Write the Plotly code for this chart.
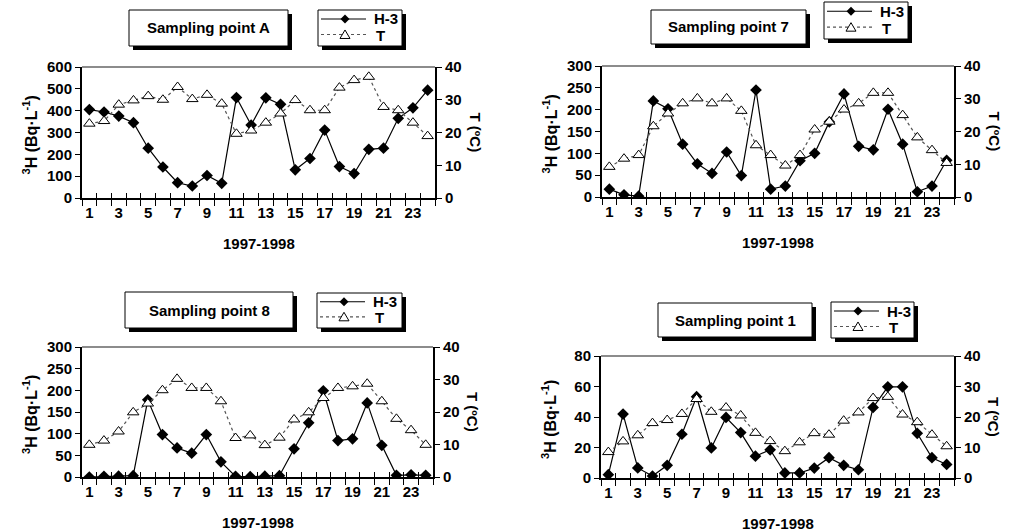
import plotly.graph_objects as go

# ---------------- data ----------------
months = list(range(1, 25))
tick_labels = [str(m) for m in range(1, 24, 2)]

h3_A = [405, 394, 375, 345, 228, 142, 70, 55, 103, 67, 460, 334,
        459, 429, 129, 181, 311, 144, 112, 223, 228, 365, 413, 494]
t_A = [22.7, 23.5, 28.5, 29.8, 31.1, 30.0, 33.9, 30.2, 31.5, 28.8, 19.6, 20.6,
       23.0, 25.8, 29.9, 26.8, 26.8, 33.7, 36.0, 37.0, 27.8, 26.8, 23.0, 18.9]

h3_7 = [18, 5, 2, 220, 202, 121, 76, 54, 103, 49, 245, 18,
        25, 83, 100, 172, 236, 116, 108, 201, 121, 12, 25, 84]
t_7 = [9.2, 11.7, 12.8, 21.6, 25.5, 28.6, 30.1, 28.6, 30.1, 26.3, 15.8, 12.8,
       9.6, 12.8, 20.6, 23.0, 26.7, 28.6, 31.8, 31.8, 25.0, 18.2, 14.3, 10.4]

h3_8 = [0, 1.5, 2, 3, 178, 98, 67, 55, 98, 35, 1.5, 0.8,
        2, 3, 65, 125, 199, 84, 88, 171, 73, 4, 5, 4]
t_8 = [9.9, 11.2, 14.0, 19.9, 22.6, 26.7, 30.2, 27.4, 27.4, 23.3, 12.0, 12.8,
       9.8, 12.1, 17.7, 19.9, 24.3, 27.4, 27.9, 28.7, 23.3, 17.9, 14.4, 9.9]

h3_1 = [2.2, 41.9, 6.6, 1.3, 8.3, 28.7, 53.3, 19.7, 39.7, 29.8, 14.3, 18.5,
        3.3, 3.3, 6.5, 13.3, 8.3, 5.4, 46.3, 59.8, 59.8, 29.3, 13.3, 8.9]
t_1 = [8.5, 12.0, 14.0, 18.0, 19.0, 21.0, 25.9, 21.7, 23.1, 20.5, 14.8, 12.1,
       8.8, 11.7, 14.7, 14.2, 18.8, 21.5, 26.2, 26.6, 20.8, 18.3, 14.2, 10.4]

titles = ["Sampling point A", "Sampling point 7", "Sampling point 8", "Sampling point 1"]
series_names = ["H-3", "T"]
h3_series = [h3_A, h3_7, h3_8, h3_1]
t_series = [t_A, t_7, t_8, t_1]
h3_max = [600, 300, 300, 80]
h3_step = [100, 50, 50, 20]

# ---------------- layout geometry (pixels) ----------------
W, H = 1020, 532
def px(x): return x / W
def py(y): return 1 - y / H

# plot areas: left, right, top, bottom
areas = [(82, 435, 67, 198), (602, 954, 66, 197), (82, 433, 347, 477), (601, 954, 356, 478)]
# title boxes: left, top, right, bottom
tboxes = [(129, 10, 288, 46), (651, 10, 806, 44), (125, 292, 293, 328), (658, 303, 812, 337)]
# legend (key) boxes: left, top, right, bottom
lboxes = [(318, 10, 402, 46), (824, 2, 908, 39), (317, 293, 402, 328), (831, 302, 914, 338)]

FONT = "Liberation Sans, Arial, sans-serif"
bold = lambda s: dict(family=FONT, size=s, color="black", weight="bold")

H3_LINE = dict(color="black", width=1.2)
T_LINE = dict(color="#555555", width=1.2, dash="dot")
SHADOW = 4

fig = go.Figure()
layout = dict(width=W, height=H, margin=dict(l=0, r=0, t=0, b=0, pad=0, autoexpand=False),
              paper_bgcolor="white", plot_bgcolor="white", showlegend=False)
shapes, annotations = [], []

def ppath(points):
    return "M " + " L ".join(f"{px(x):.5f},{py(y):.5f}" for x, y in points) + " Z"

def shadow_box(x0, y0, x1, y1):
    shapes.append(dict(type="rect", xref="paper", yref="paper",
                       x0=px(x0 + SHADOW), x1=px(x1 + SHADOW),
                       y0=py(y1 + SHADOW), y1=py(y0 + SHADOW),
                       fillcolor="black", line=dict(width=0)))
    shapes.append(dict(type="rect", xref="paper", yref="paper",
                       x0=px(x0), x1=px(x1), y0=py(y1), y1=py(y0),
                       fillcolor="white", line=dict(color="black", width=1)))

for i in range(4):
    n = i + 1
    xid = "x" if n == 1 else f"x{n}"
    xov = f"x{n + 4}"
    yh = "y" if n == 1 else f"y{2 * n - 1}"
    yt = f"y{2 * n}"
    L, R, T, B = areas[i]

    fig.add_trace(go.Scatter(
        x=months, y=h3_series[i], xaxis=xid, yaxis=yh, name=series_names[0],
        mode="lines+markers", line=H3_LINE,
        marker=dict(symbol="diamond", size=9, color="black")))
    fig.add_trace(go.Scatter(
        x=months, y=t_series[i], xaxis=xov, yaxis=yt, name=series_names[1],
        mode="lines+markers", line=T_LINE,
        marker=dict(symbol="triangle-up", size=10, color="white",
                    line=dict(color="black", width=1))))

    xk = "xaxis" if n == 1 else f"xaxis{n}"
    yhk = "yaxis" if n == 1 else f"yaxis{2 * n - 1}"
    bounds = [m + 0.5 for m in range(0, 25)]
    layout[xk] = dict(domain=[px(L), px(R)], anchor=yh, range=[0.5, 24.5],
                      tickmode="array", tickvals=list(range(1, 24, 2)), ticktext=tick_labels,
                      ticks="", showgrid=False, zeroline=False,
                      showline=True, linecolor="black", linewidth=2,
                      tickfont=bold(15),
                      minor=dict(tickmode="array", tickvals=bounds, ticks="outside",
                                 ticklen=6, tickcolor="black", tickwidth=1, showgrid=False))
    layout[f"xaxis{n + 4}"] = dict(overlaying=xid, anchor=yh, range=[0.5, 24.5], side="bottom",
                                   tickmode="array", tickvals=bounds, ticks="inside",
                                   ticklen=5, tickcolor="black", tickwidth=1,
                                   showticklabels=False, showgrid=False, zeroline=False,
                                   showline=False)
    layout[yhk] = dict(domain=[py(B), py(T)], anchor=xid, range=[0, h3_max[i]],
                       dtick=h3_step[i], tick0=0, ticks="outside", ticklen=5,
                       tickcolor="black", showgrid=False, zeroline=False,
                       showline=True, linecolor="black", linewidth=2, tickfont=bold(15))
    layout[f"yaxis{2 * n}"] = dict(overlaying=yh, anchor=xid, side="right", range=[0, 40],
                                   dtick=10, tick0=0, ticks="outside", ticklen=5,
                                   tickcolor="black", showgrid=False, zeroline=False,
                                   showline=True, linecolor="black", linewidth=2,
                                   tickfont=bold(15))

    # top frame line of the plot area
    shapes.append(dict(type="line", xref=f"{xid} domain", yref=f"{yh} domain",
                       x0=0, x1=1, y0=1, y1=1, line=dict(color="#666666", width=1.5)))

    # title box with drop shadow
    bx0, by0, bx1, by1 = tboxes[i]
    shadow_box(bx0, by0, bx1, by1)
    annotations.append(dict(xref="paper", yref="paper", x=px((bx0 + bx1) / 2),
                            y=py((by0 + by1) / 2), xanchor="center", yanchor="middle",
                            text=titles[i], showarrow=False, font=bold(15)))

    # key box with drop shadow
    lx0, ly0, lx1, ly1 = lboxes[i]
    shadow_box(lx0, ly0, lx1, ly1)
    r1 = ly0 + (ly1 - ly0) * 0.25
    r2 = ly0 + (ly1 - ly0) * 0.68
    sx0, sx1, smid = lx0 + 3, lx0 + 48, lx0 + 27
    shapes.append(dict(type="line", xref="paper", yref="paper",
                       x0=px(sx0), x1=px(sx1), y0=py(r1), y1=py(r1), line=H3_LINE))
    shapes.append(dict(type="path", xref="paper", yref="paper",
                       path=ppath([(smid, r1 - 4.5), (smid + 4.5, r1), (smid, r1 + 4.5), (smid - 4.5, r1)]),
                       fillcolor="black", line=dict(width=0)))
    shapes.append(dict(type="line", xref="paper", yref="paper",
                       x0=px(sx0), x1=px(sx1), y0=py(r2), y1=py(r2), line=T_LINE))
    shapes.append(dict(type="path", xref="paper", yref="paper",
                       path=ppath([(smid, r2 - 4.5), (smid + 5, r2 + 4), (smid - 5, r2 + 4)]),
                       fillcolor="white", line=dict(color="black", width=1)))
    annotations.append(dict(xref="paper", yref="paper", x=px(lx0 + 54), y=py(r1),
                            xanchor="left", yanchor="middle", text=series_names[0],
                            showarrow=False, font=bold(15)))
    annotations.append(dict(xref="paper", yref="paper", x=px(lx0 + 56), y=py(r2 + 1),
                            xanchor="left", yanchor="middle", text=series_names[1],
                            showarrow=False, font=bold(15)))

    # axis titles
    cy = (T + B) / 2 + 3
    annotations.append(dict(xref="paper", yref="paper", x=px(L - 52), y=py(cy),
                            text="<sup>3</sup>H (Bq·L<sup>-1</sup>)", textangle=-90,
                            showarrow=False, font=bold(16), xanchor="center", yanchor="middle"))
    annotations.append(dict(xref="paper", yref="paper", x=px(R + 40), y=py(cy - 3),
                            text="T (ºC)", textangle=90,
                            showarrow=False, font=bold(15), xanchor="center", yanchor="middle"))
    annotations.append(dict(xref="paper", yref="paper", x=px((L + R) / 2), y=py(B + 45),
                            text="1997-1998", showarrow=False, font=bold(15),
                            xanchor="center", yanchor="middle"))

layout["shapes"] = shapes
layout["annotations"] = annotations
fig.update_layout(**layout)
fig.write_html("out.html")
